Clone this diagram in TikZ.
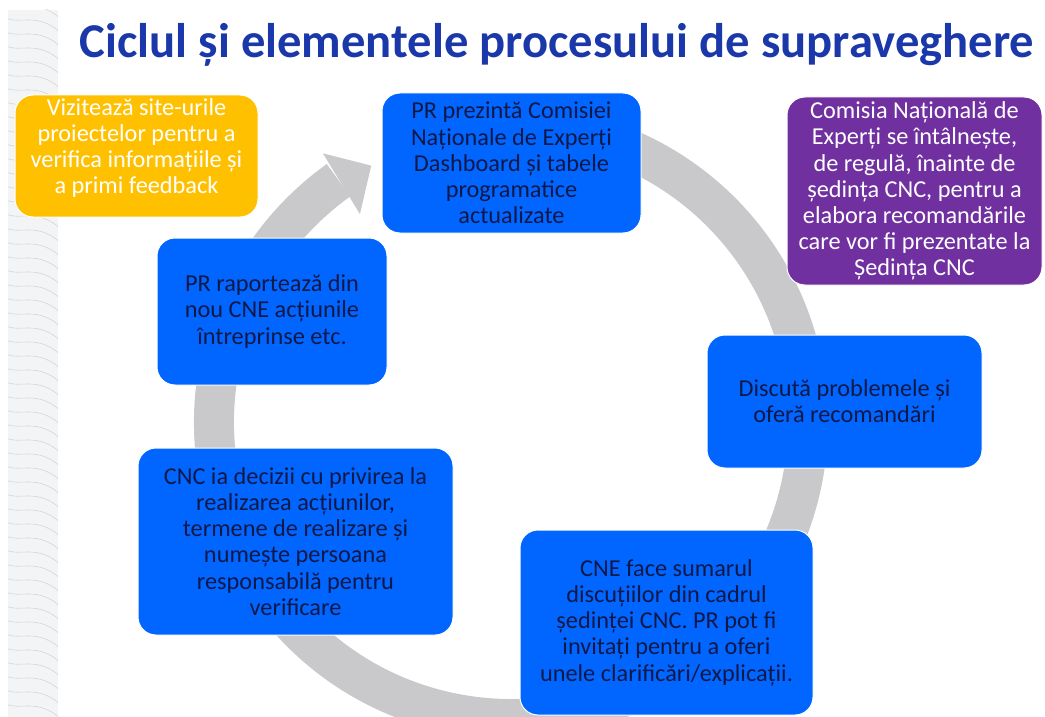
\documentclass[tikz,border=0pt]{standalone}
\usepackage{fontspec}
\setmainfont{Carlito}
\definecolor{ringgray}{RGB}{201,201,203}
\definecolor{boxblue}{RGB}{0,102,255}
\definecolor{navytxt}{RGB}{16,24,72}
\definecolor{yellowc}{RGB}{255,192,0}
\definecolor{purplec}{RGB}{112,48,160}
\definecolor{titleblue}{RGB}{26,56,170}
\definecolor{stripbg}{RGB}{243,244,245}
\definecolor{stripline}{RGB}{212,214,217}
\begin{document}
\begin{tikzpicture}[x=1pt,y=1pt,
  boxfont/.style={font=\fontsize{24.3}{26.2}\selectfont},
  box/.style={rounded corners=18pt, draw=white, line width=1pt, inner sep=0pt, align=center, boxfont},
  bluebox/.style={box, fill=boxblue, text=navytxt},
  whitetxt/.style={text=white, align=center, boxfont, inner sep=0pt},
  ring/.style={draw=ringgray, line width=40pt},
  topo/.style={draw=stripline, line width=0.6pt}]
\useasboundingbox (0,0) rectangle (1045,-717);
\fill[white] (0,0) rectangle (1045,-717);
% decorative strip
\begin{scope}
  \clip (8,-10) rectangle (58,-717);
  \fill[stripbg] (8,-10) rectangle (58,-717);
  \foreach \i in {0,...,50} {
    \draw[topo] (0,{-\i*14}) .. controls (18,{-\i*14-16}) and (36,{-\i*14+8}) .. (66,{-\i*14-24});
  }
\end{scope}
% title
\node[font=\fontsize{48.6}{52}\selectfont\bfseries, text=titleblue, anchor=base, inner sep=0pt] (title) at (557,-58) {Ciclul și elementele procesului de supraveghere};
% cycle ring with arrowhead
\coordinate (C) at (511,-422);
\draw[ring] ([shift={(80:297)}]C) arc[start angle=80, end angle=-234.5, radius=297];
\fill[ringgray] ([shift={(126:257)}]C) -- ([shift={(125:328)}]C) -- ([shift={(118.6:292)}]C) -- cycle;
% boxes
\node[box, fill=yellowc, minimum width=243pt, minimum height=122pt] (visit) at (136.5,-156) {};
\node[whitetxt] (visittxt) at (136.5,-148) {Vizitează site-urile\\proiectelor pentru a\\verifica informațiile și\\a primi feedback};
\node[bluebox, minimum width=259pt, minimum height=140pt] (present) at (511.5,-163) {PR prezintă Comisiei\\Naționale de Experți\\Dashboard și tabele\\programatice\\actualizate};
\node[box, fill=purplec, text=white, minimum width=255pt, minimum height=188pt] (cne) at (914.5,-191) {Comisia Națională de\\Experți se întâlnește,\\de regulă, înainte de\\ședința CNC, pentru a\\elabora recomandările\\care vor fi prezentate la\\Ședința CNC};
\node[bluebox, minimum width=230pt, minimum height=147pt] (report) at (272,-311.5) {PR raportează din\\nou CNE acțiunile\\întreprinse etc.};
\node[bluebox, minimum width=275pt, minimum height=133pt] (discuss) at (844.5,-401.5) {Discută problemele și\\oferă recomandări};
\node[bluebox, minimum width=315pt, minimum height=187pt] (decide) at (295.5,-541.5) {CNC ia decizii cu privirea la\\realizarea acțiunilor,\\termene de realizare și\\numește persoana\\responsabilă pentru\\verificare};
\node[bluebox, minimum width=293pt, minimum height=185pt] (summary) at (666.5,-622.5) {CNE face sumarul\\discuțiilor din cadrul\\ședinței CNC. PR pot fi\\invitați pentru a oferi\\unele clarificări/explicații.};
\end{tikzpicture}
\end{document}
